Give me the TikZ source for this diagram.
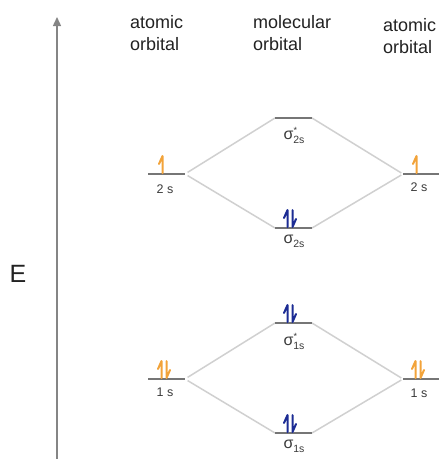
\documentclass[tikz,border=0pt]{standalone}
\usepackage{fontspec}
\setmainfont{Liberation Sans}
\usetikzlibrary{arrows.meta}
\definecolor{lvlgray}{HTML}{767676}
\definecolor{conngray}{HTML}{D0D0D0}
\definecolor{axisgray}{HTML}{858585}
\definecolor{eorange}{HTML}{F2A33A}
\definecolor{eblue}{HTML}{1C2C94}
\definecolor{txt}{HTML}{222222}
\definecolor{lbl}{HTML}{3A3A3A}
\newcommand{\mosig}[1]{σ\raisebox{-4pt}{\fontsize{10.5}{10.5}\selectfont #1}}
\newcommand{\mosigstar}[1]{σ\rlap{\kern0.3pt\raisebox{6pt}{\fontsize{9}{9}\selectfont *}}\raisebox{-4pt}{\fontsize{10.5}{10.5}\selectfont #1}}
\begin{document}
\begin{tikzpicture}[x=1pt,y=-1pt,
  lvlnode/.style={minimum width=37pt,minimum height=0pt,inner sep=0pt,outer sep=0pt},
  lvl/.style={draw=lvlgray,line width=1.4pt},
  conn/.style={draw=conngray,line width=1.5pt},
  axisline/.style={draw=axisgray,line width=1.4pt,-{Triangle[length=9pt,width=8pt]}},
  header/.style={align=left,anchor=base west,inner sep=0pt,text=txt,font=\fontsize{18}{22}\selectfont},
  aolabel/.style={anchor=base,inner sep=0pt,text=lbl,font=\fontsize{12.5}{13}\selectfont},
  molabel/.style={anchor=base,inner sep=0pt,text=lbl,font=\fontsize{16}{16}\selectfont},
  harp/.style={line width=2pt,line cap=round,line join=round},
  upe/.pic={\draw[harp,pic actions] (-2.5,-1) -- (-2.5,-18) -- (-6,-10);},
  pairE/.pic={\draw[harp,pic actions] (-2.5,-1) -- (-2.5,-18) -- (-6,-10);
              \draw[harp,pic actions] (2.5,-18) -- (2.5,-1) -- (6,-9);}
]
\useasboundingbox (0,0) rectangle (439,459);

% energy axis
\coordinate (axb) at (57,459);
\coordinate (axt) at (57,17);
\draw[axisline] (axb) -- (axt);
\node[text=txt,font=\fontsize{25}{25}\selectfont,inner sep=0pt] (E) at (18,274) {E};

% headers
\node[header] (hL) at (130,50) {atomic\\orbital};
\node[header] (hM) at (253,50) {molecular\\orbital};
\node[header] (hR) at (383,53) {atomic\\orbital};

% levels
\node[lvlnode] (L2s) at (166.5,174) {};
\node[lvlnode] (L1s) at (166.5,379) {};
\node[lvlnode] (R2s) at (421.5,174) {};
\node[lvlnode] (R1s) at (421.5,379) {};
\node[lvlnode] (S2ss) at (293.5,118) {};
\node[lvlnode] (S2s) at (293.5,228) {};
\node[lvlnode] (S1ss) at (293.5,323) {};
\node[lvlnode] (S1s) at (293.5,433) {};

% connectors
\draw[conn,shorten <=3pt] (L2s.east) -- (S2ss.west);
\draw[conn,shorten <=3pt] (L2s.east) -- (S2s.west);
\draw[conn,shorten >=2pt] (S2ss.east) -- (R2s.west);
\draw[conn,shorten >=2pt] (S2s.east) -- (R2s.west);
\draw[conn,shorten <=3pt] (L1s.east) -- (S1ss.west);
\draw[conn,shorten <=3pt] (L1s.east) -- (S1s.west);
\draw[conn,shorten >=2pt] (S1ss.east) -- (R1s.west);
\draw[conn,shorten >=2pt] (S1s.east) -- (R1s.west);

% level lines
\foreach \n in {L2s,L1s,R2s,R1s,S2ss,S2s,S1ss,S1s}
  \draw[lvl] (\n.west) -- (\n.east);

% electrons
\pic[draw=eorange] at (165,174) {upe};
\pic[draw=eorange] at (419,174) {upe};
\pic[draw=eorange] at (164,379) {pairE};
\pic[draw=eorange] at (418,379) {pairE};
\pic[draw=eblue] at (290,228) {pairE};
\pic[draw=eblue] at (290,323) {pairE};
\pic[draw=eblue] at (290,433) {pairE};

% labels
\node[aolabel] (tL2s) at (165,193) {2 s};
\node[aolabel] (tL1s) at (165,396) {1 s};
\node[aolabel] (tR2s) at (419,191) {2 s};
\node[aolabel] (tR1s) at (419,397) {1 s};
\node[molabel] (tS2ss) at (294,139.5) {\mosigstar{2s}};
\node[molabel] (tS2s) at (294,243.5) {\mosig{2s}};
\node[molabel] (tS1ss) at (294,345) {\mosigstar{1s}};
\node[molabel] (tS1s) at (294,448.5) {\mosig{1s}};
\end{tikzpicture}
\end{document}
